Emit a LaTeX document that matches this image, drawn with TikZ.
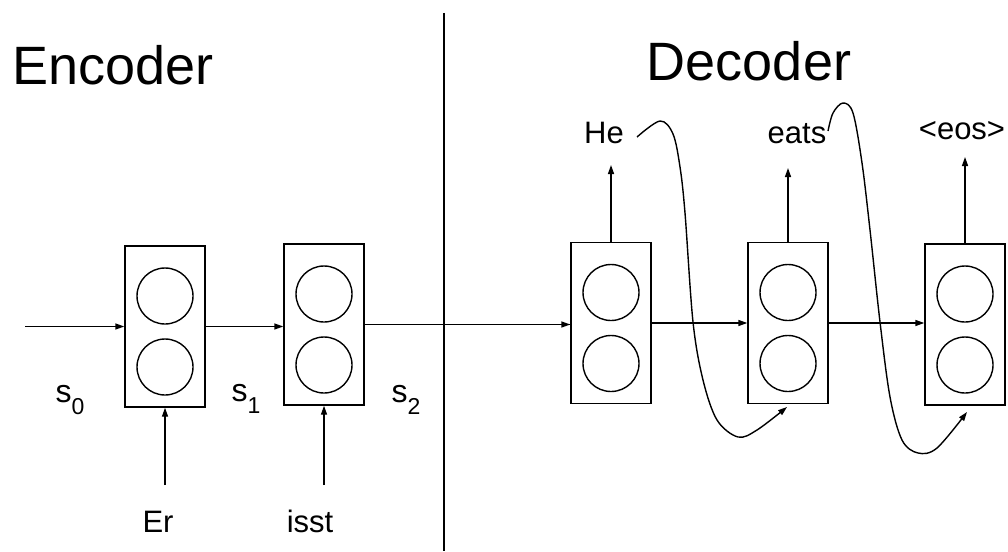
\documentclass[tikz,border=0pt]{standalone}
\usepackage{fontspec}
\setmainfont{Liberation Sans}
\usetikzlibrary{arrows.meta}
\newcommand{\subdig}[1]{\raisebox{-12pt}{\fontsize{23}{26}\selectfont #1}}
\begin{document}
\begin{tikzpicture}[x=1pt,y=-1pt,
  line width=1.4pt,
  cell/.style={draw, rectangle, minimum width=80pt, minimum height=161pt, inner sep=0pt},
  unit/.style={draw, circle, minimum size=56pt, inner sep=0pt},
  arr/.style={-{Triangle[length=9pt,width=6pt]}},
  big/.style={font=\fontsize{54}{60}\selectfont, inner sep=0pt, anchor=base},
  word/.style={font=\fontsize{31}{36}\selectfont, inner sep=0pt, anchor=base},
  state/.style={font=\fontsize{32}{36}\selectfont, inner sep=0pt, anchor=base west}]
\useasboundingbox (0,0) rectangle (1008,551);

% titles
\node[big] (enc) at (113,84) {Encoder};
\node[big] (dec) at (749,80) {Decoder};

% divider
\coordinate (divtop) at (444,13);
\coordinate (divbot) at (444,551);
\draw (divtop) -- (divbot);

% encoder cells
\node[cell] (E1) at (165,326.5) {};
\node[unit] (E1a) at (165,296) {};
\node[unit] (E1b) at (165,367) {};
\node[cell] (E2) at (324,324.5) {};
\node[unit] (E2a) at (324,294) {};
\node[unit] (E2b) at (324,365) {};

% decoder cells
\node[cell] (D1) at (611,323) {};
\node[unit] (D1a) at (611,292.5) {};
\node[unit] (D1b) at (611,363.5) {};
\node[cell] (D2) at (788,323) {};
\node[unit] (D2a) at (788,292.5) {};
\node[unit] (D2b) at (788,363.5) {};
\node[cell] (D3) at (965,324.5) {};
\node[unit] (D3a) at (965,294) {};
\node[unit] (D3b) at (965,365) {};

% state labels
\node[state] (s0) at (55,402) {s\subdig{0}};
\node[state] (s1) at (231,401) {s\subdig{1}};
\node[state] (s2) at (391,402) {s\subdig{2}};

% input words
\node[word] (er) at (158,532) {Er};
\node[word] (isst) at (310,532) {isst};

% output words
\node[word] (he) at (604,143) {He};
\node[word] (eats) at (797,143) {eats};
\node[word] (eos) at (962,139) {<eos>};

% recurrent connections
\coordinate (start) at (25,326.5);
\draw[arr] (start) -- (E1.west);
\draw[arr] (E1.east) -- (E1.east -| E2.west);
\draw (E2.east) -- (E2.east -| D1.west);
\draw[arr] (E2.east -| divtop) -- (E2.east -| D1.west);
\draw[arr] (D1.east) -- (D2.west);
\draw[arr] (D2.east) -- (D2.east -| D3.west);

% inputs
\coordinate (erin) at (165,485);
\coordinate (isstin) at (324,485);
\draw[arr] (erin) -- (E1.south);
\draw[arr] (isstin) -- (E2.south);

% outputs
\coordinate (heout) at (611,165);
\coordinate (eatsout) at (788,168);
\coordinate (eosout) at (965,157);
\draw[arr] (D1.north) -- (heout);
\draw[arr] (D2.north) -- (eatsout);
\draw[arr] (D3.north) -- (eosout);

% feedback curves
\coordinate (f1s) at (637,137);
\coordinate (f1e) at (787,407);
\coordinate (f2s) at (828,131);
\coordinate (f2e) at (967,412);
\draw[arr] plot[smooth, tension=0.55] coordinates {(f1s) (660,121) (673,134) (680,167) (685,213) (693,322) (703,380) (717,420) (738,437) (757,430) (f1e)};
\draw[arr] plot[smooth, tension=0.55] coordinates {(f2s) (833,113) (843,103) (853,113) (862,163) (870,230) (880,322) (890,397) (902,440) (918,453) (937,448) (f2e)};
\end{tikzpicture}
\end{document}
